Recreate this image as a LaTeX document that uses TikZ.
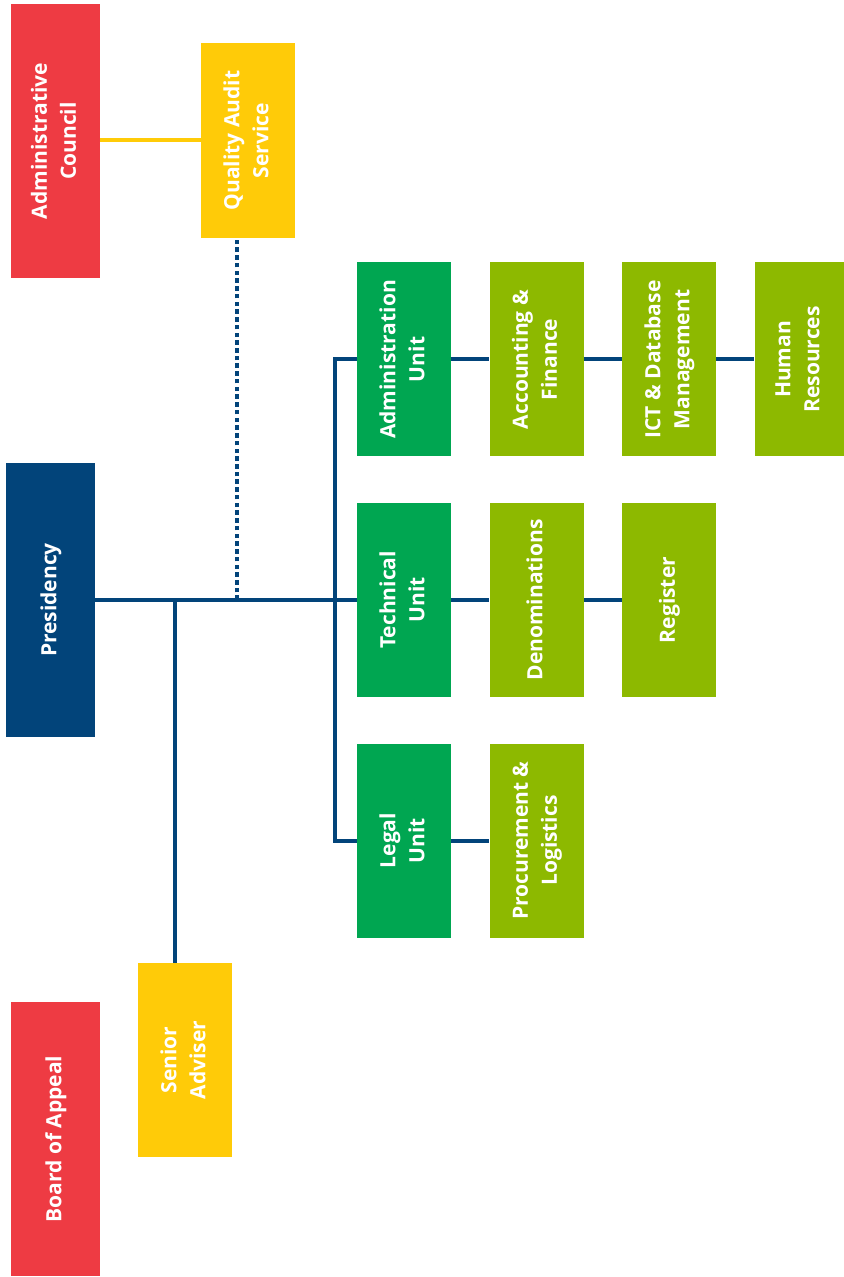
\documentclass[tikz,border=0pt]{standalone}
\usepackage{fontspec}
\setmainfont{Open Sans}
\usetikzlibrary{positioning}

\definecolor{boardred}{RGB}{238,59,67}
\definecolor{staffyellow}{RGB}{255,203,8}
\definecolor{presnavy}{RGB}{2,68,122}
\definecolor{unitgreen}{RGB}{0,166,81}
\definecolor{seclime}{RGB}{141,185,0}

\newcommand{\vlabel}[1]{\rotatebox{90}{\begin{tabular}{@{}c@{}}#1\end{tabular}}}

\begin{document}
\begin{tikzpicture}[line cap=butt,line join=miter,x=0.75pt,y=-0.75pt,
  orgbox/.style={fill=#1,draw=none,text=white,inner sep=0pt,
    font=\bfseries\fontsize{15.75}{21.75}\selectfont},
  tallbox/.style={orgbox=#1,minimum width=66.75pt,minimum height=205.5pt},
  unitbox/.style={orgbox=#1,minimum width=70.5pt,minimum height=145.5pt},
  link/.style={draw=presnavy,line width=3pt},
  node distance=34.5pt and 28.5pt]
  \useasboundingbox (0,0) rectangle (843,1277);

  % left column
  \node[tallbox=boardred] (council) at (55.5,141) {\vlabel{Administrative\\Council}};
  \node[tallbox=presnavy] (pres) at (50.5,600) {\vlabel{Presidency}};
  \node[tallbox=boardred] (appeal) at (55.5,1139) {\vlabel{Board of Appeal}};

  % staff
  \node[unitbox=staffyellow] (audit) at (248,140.5) {\vlabel{Quality Audit\\Service}};
  \node[unitbox=staffyellow] (adviser) at (185,1060) {\vlabel{Senior\\Adviser}};

  % units
  \node[unitbox=unitgreen] (tech) at (404,600) {\vlabel{Technical\\Unit}};
  \node[unitbox=unitgreen,above=of tech] (admin) {\vlabel{Administration\\Unit}};
  \node[unitbox=unitgreen,below=of tech] (legal) {\vlabel{Legal\\Unit}};

  % sections
  \node[unitbox=seclime,right=of admin] (acc) {\vlabel{Accounting \&\\Finance}};
  \node[unitbox=seclime,right=of acc] (ict) {\vlabel{ICT \& Database\\Management}};
  \node[unitbox=seclime,right=of ict,minimum width=66.75pt] (hr) {\vlabel{Human\\Resources}};
  \node[unitbox=seclime,right=of tech] (denom) {\vlabel{Denominations}};
  \node[unitbox=seclime,right=of denom] (reg) {\vlabel{Register}};
  \node[unitbox=seclime,right=of legal] (proc) {\vlabel{Procurement \&\\Logistics}};

  \coordinate (auditfoot) at (237,600);
  \coordinate (adviserfoot) at (175,600);
  \coordinate (bus) at (335,600);

  % connectors
  \draw[draw=staffyellow,line width=3pt] (council.east |- 0,140) -- (audit.west |- 0,140);
  \draw[link,dash pattern=on 3.4pt off 2.4pt] (auditfoot) -- (auditfoot |- audit.south);
  \draw[link] (pres.east) -- (tech.west);
  \draw[link] (adviserfoot) -- (adviserfoot |- adviser.north);
  \draw[link] (admin.west) -| (bus) |- (legal.west);
  \draw[link] (admin) -- (acc) -- (ict) -- (hr);
  \draw[link] (tech) -- (denom) -- (reg);
  \draw[link] (legal) -- (proc);
\end{tikzpicture}
\end{document}
